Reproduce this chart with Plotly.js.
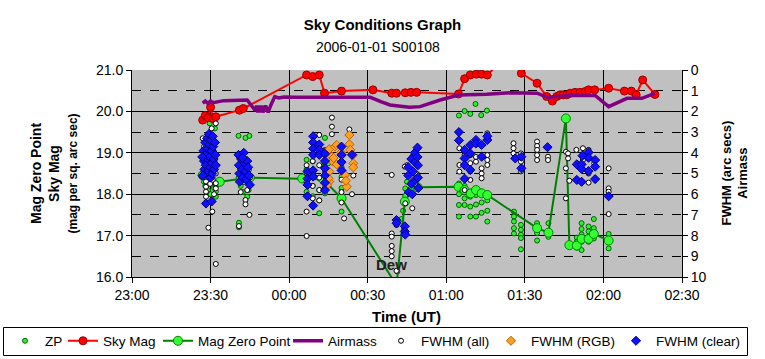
<!DOCTYPE html>
<html>
<head>
<meta charset="utf-8">
<script src="https://cdn.plot.ly/plotly-3.0.1.min.js"></script>
<style>html,body{margin:0;padding:0;background:#fff;}#chart{width:765px;height:359px;}</style>
</head>
<body>
<div id="chart"></div>
<script>
// ---------- DATA ----------
const tickTimes = ["23:00","23:30","00:00","00:30","01:00","01:30","02:00","02:30"];
const tickLabels = ["23:00","23:30","00:00","00:30","01:00","01:30","02:00","02:30"];

const skyMagTimes = ["23:27","23:28","23:29","23:30","23:31","23:32","23:41","23:42:30","00:06:40","00:09","00:11:30","00:13:30","00:20","00:32","00:39:10","00:41","00:44:20","00:46:30","00:48:40","01:04:40","01:07","01:09:10","01:11:30","01:13:30","01:15:40","01:20","01:26","01:28:40","01:34:40","01:38:20","01:40:30","01:42:10","01:43:30","01:44:40","01:46","01:47:20","01:49:10","01:51","01:53","01:54:20","01:56:40","02:02","02:08","02:10:40","02:12:30","02:15","02:19:40"];
const skyMagValues = [19.79,19.90,19.85,20.10,19.82,19.87,20.03,20.07,20.88,20.84,20.88,20.44,20.49,20.52,20.44,20.44,20.45,20.46,20.46,20.42,20.79,20.88,20.90,20.90,20.88,21.15,21.15,20.92,20.68,20.36,20.25,20.36,20.40,20.40,20.40,20.44,20.46,20.46,20.48,20.52,20.52,20.56,20.49,20.49,20.40,20.76,20.41];

const magZpTimes = ["23:27","23:33:30","23:45","00:05","00:13","00:20","00:41","00:44:10","00:47:20","00:49","01:04:40","01:07","01:09:20","01:11:20","01:13:30","01:15:40","01:34:40","01:39","01:45:40","01:47","01:49:50","01:51:40","01:54:20","01:56:20","02:02"];
const magZpValues = [18.46,18.30,18.40,18.38,18.36,17.90,15.80,17.82,18.14,18.17,18.18,18.10,18.02,18.10,18.02,17.98,17.18,17.07,19.83,16.77,16.76,16.92,16.92,17.04,16.88];

const airmassTimes = ["23:27","23:28","23:29","23:30","23:31","23:35","23:44","23:46","23:47","23:47:30","23:48","23:48:30","23:49","23:49:30","23:50","23:51","23:52","23:53","23:54:30","23:56","23:58","00:02","00:31","00:35","00:38:30","00:46","00:50","00:57:40","01:04:40","01:15:30","01:24:30","01:34:40","01:38:30","01:47:20","01:56:50","02:02","02:09","02:14:40","02:19:40"];
const airmassValues = [1.60,1.50,1.62,1.50,1.58,1.48,1.45,1.78,1.95,1.72,2.05,1.72,2.05,1.72,2.05,1.72,2.05,1.70,1.29,1.35,1.30,1.32,1.32,1.53,1.69,1.80,1.77,1.45,1.21,1.17,1.10,1.12,1.32,1.23,1.23,1.77,1.37,1.37,1.13];

const zpTimes = ["23:31:40","23:29:40","23:27:10","23:27:30","23:28:00","23:28:20","23:29:00","23:29:30","23:30:00","23:30:40","23:31:20","23:32:00","23:32:00","23:32:00","23:28:40",
"23:40:40","23:43:20","23:44:50","23:40:40","23:41:30","23:42:20","23:43:20","23:44:00","23:44:30","23:40:50","23:40:50",
"00:13:40","00:06:40","00:06:40","00:06:40","00:06:40","00:09:00","00:09:00","00:09:00","00:09:00","00:09:00","00:11:30","00:11:30","00:11:30","00:11:30","00:13:40","00:13:40","00:13:40","00:13:40","00:20:00","00:20:00","00:20:00","00:20:00","00:15:00",
"00:41:20","00:44:20","00:44:20","00:44:20","00:43:30","00:42:50","00:45:00",
"01:04:50","01:07:00","01:09:10","01:11:10","01:13:20","01:15:30","01:04:50","01:04:50","01:04:50","01:04:50","01:07:00","01:07:00","01:07:00","01:09:10","01:09:10","01:09:10","01:11:20","01:11:20","01:11:20","01:13:30","01:13:30","01:13:30","01:15:40","01:15:40","01:15:40",
"01:25:50","01:25:50","01:25:50","01:25:50","01:25:50","01:28:30","01:28:30","01:28:30","01:28:30","01:28:30",
"01:34:40","01:34:40","01:34:40","01:39:00","01:39:00",
"01:51:40","01:51:40","01:51:40","01:49:50","01:49:50","01:54:20","01:54:20","01:54:20","01:56:20","01:56:20","01:56:20","01:51:40","01:54:20","01:49:50","01:51:40",
"02:02:00","02:02:00","02:02:00"];
const zpValues = [19.59,19.71,18.47,18.30,18.20,18.26,18.10,18.40,18.00,18.30,18.15,18.06,17.94,18.20,18.50,
19.41,19.36,19.41,18.39,18.20,18.05,18.30,17.94,18.10,17.31,17.20,
19.36,18.83,18.60,18.35,18.06,18.79,18.50,18.20,17.95,17.74,18.38,18.10,17.85,17.54,19.07,18.70,18.30,18.02,18.42,18.15,17.85,17.58,18.75,
16.13,18.14,17.96,17.78,17.60,17.40,18.30,
19.90,20.01,19.94,20.18,19.91,20.02,18.26,18.00,17.74,17.46,18.20,17.90,17.74,17.94,17.70,17.46,17.98,17.75,17.46,18.06,17.80,17.55,17.85,17.60,17.34,
17.58,17.46,17.34,17.18,17.05,17.26,17.14,17.02,16.94,16.67,
17.30,17.06,16.88,17.30,16.97,
17.30,17.16,17.03,16.95,16.85,17.22,17.10,16.85,17.40,17.18,16.93,16.85,16.97,16.71,16.65,
17.04,16.69,16.85];

const fwhmAllTimes = ["23:30:25","23:32:00","23:29:40","23:27:00","23:27:30","23:28:00","23:28:30","23:29:00","23:29:30","23:30:00","23:30:30","23:31:00","23:31:30","23:32:00","23:26:40","23:28:15","23:28:15","23:28:15","23:28:15","23:30:50","23:32:00","23:32:00","23:30:40","23:29:10","23:32:00","23:27:20","23:29:50","23:31:20",
"23:40:40","23:41:20","23:42:00","23:42:40","23:43:20","23:44:00","23:44:40","23:45:00","23:43:20","23:43:20","23:44:50","23:40:50","23:41:30",
"00:16:20","00:16:20","00:16:20","00:23:00","00:11:30","00:06:40","00:06:40","00:06:40","00:06:40","00:06:40","00:09:00","00:09:00","00:09:00","00:09:00","00:11:30","00:11:30","00:11:30","00:11:30","00:13:40","00:13:40","00:13:40","00:20:00","00:20:00","00:20:00","00:20:00","00:21:00","00:24:30","00:24:00",
"00:39:10","00:39:10","00:39:10","00:39:10","00:39:10","00:39:10","00:41:00","00:41:00","00:44:20","00:47:00","00:45:00","00:47:00","00:49:10","00:44:10","00:48:00","00:49:00",
"01:05:00","01:05:00","01:05:00","01:07:00","01:07:00","01:09:10","01:09:10","01:09:10","01:09:10","01:11:20","01:11:20","01:13:30","01:13:30","01:13:30","01:15:40","01:15:40","01:15:40","01:15:40",
"01:25:40","01:25:40","01:25:40","01:28:30","01:28:30","01:28:30","01:34:40","01:34:40","01:34:40","01:34:40","01:34:40","01:38:50","01:38:50",
"01:45:40","01:45:40","01:45:40","01:46:30","01:46:30","01:47:00","01:49:40","01:52:10","01:54:20","01:52:10","01:52:10","01:50:00","01:54:20","01:56:30","01:54:20","01:54:20",
"02:02:00","02:02:00","02:02:00","02:02:00"];
const fwhmAllValues = [2.82,2.58,3.06,3.30,3.70,4.00,4.50,4.80,3.50,4.10,4.60,3.90,4.40,5.00,5.15,5.39,5.64,5.88,6.12,5.31,5.47,5.72,6.84,7.62,9.37,4.90,5.50,6.00,
4.15,4.60,5.00,5.40,4.30,5.80,4.80,5.20,6.28,6.49,7.00,7.54,5.90,
2.30,2.74,3.10,2.87,3.14,4.60,5.00,5.40,6.84,8.02,4.40,5.00,5.60,6.20,4.60,5.20,5.80,6.30,3.90,4.90,5.70,4.70,5.30,5.90,6.40,7.17,5.10,6.00,
5.07,7.90,8.05,8.50,8.75,9.00,9.70,7.49,6.44,6.68,4.60,4.19,3.78,4.67,5.50,5.05,
3.78,4.59,4.91,5.80,4.10,4.11,4.50,4.90,5.31,4.20,4.43,4.75,5.00,5.23,3.06,4.11,4.35,4.59,
3.54,3.78,4.03,4.03,4.43,4.90,3.46,3.67,3.86,4.11,4.35,4.19,4.35,
3.95,4.75,6.20,4.03,4.27,5.35,3.86,3.78,3.86,4.07,4.35,4.51,4.27,4.51,5.00,5.44,
4.75,5.72,5.88,6.96];

const fwhmRgbTimes = ["00:15:20","00:16:20","00:17:30","00:15:20","00:15:20","00:16:40","00:18:10","00:19:50","00:21:20","00:22:00","00:23:00","00:23:00","00:23:20","00:24:20","00:24:30","00:24:30","00:15:00","00:18:10","00:20:10","00:14:30","00:21:40","00:17:00"];
const fwhmRgbValues = [3.82,4.19,3.70,4.91,5.39,4.43,4.56,3.98,5.07,5.64,3.14,3.59,3.86,4.11,4.51,4.70,5.23,3.62,4.11,5.56,5.35,4.25];

const fwhmClearTimes = ["23:27:20","23:27:30","23:27:40","23:28:15","23:30:25","23:28:00","23:28:00","23:28:10","23:28:20","23:28:40","23:28:50","23:29:00","23:29:10","23:29:20","23:29:30","23:29:40","23:29:50","23:30:00","23:30:10","23:30:20","23:30:30","23:30:40","23:30:50","23:31:00","23:31:10","23:31:20","23:31:40","23:31:50","23:32:00","23:26:50","23:27:00",
"23:40:40","23:40:50","23:41:00","23:41:10","23:41:40","23:42:00","23:42:20","23:42:40","23:43:00","23:43:20","23:43:40","23:44:00","23:44:20","23:44:40","23:45:00","23:42:10",
"00:07:00","00:07:00","00:07:00","00:07:00","00:09:10","00:09:10","00:09:10","00:09:10","00:09:10","00:09:10","00:09:10","00:11:30","00:11:30","00:11:30","00:13:40","00:13:40","00:13:40","00:13:40","00:13:40","00:13:40","00:20:00","00:20:00","00:20:00","00:20:00","00:24:00",
"00:41:00","00:41:00","00:44:10","00:44:10","00:44:20","00:45:30","00:45:30","00:45:40","00:46:40","00:46:40","00:47:20","00:48:00","00:48:00","00:48:10","00:49:00","00:49:00","00:49:10","00:49:10","00:49:20","00:47:00",
"01:04:50","01:04:50","01:07:00","01:07:00","01:07:00","01:07:00","01:09:10","01:09:10","01:09:10","01:11:20","01:11:20","01:13:30","01:13:30","01:15:40","01:15:40",
"01:26:20","01:28:40","01:28:40","01:38:40",
"01:49:50","01:51:40","01:52:00","01:54:20","01:54:20","01:56:50","01:56:50","01:51:40","01:54:20","01:49:50","01:51:40","01:56:50",
"02:02:00"];
const fwhmClearValues = [3.9,4.4,4.8,6.45,6.35,3.5,4.1,4.6,5.0,3.3,3.8,4.3,4.9,3.1,3.6,4.2,4.7,5.2,3.4,3.9,4.5,5.0,3.2,3.7,4.3,4.8,3.5,4.1,4.6,4.2,5.1,
4.1,4.6,5.0,5.4,4.3,4.8,5.2,4.0,4.5,4.9,5.3,4.4,4.7,5.1,5.55,4.25,
4.9,5.25,5.55,6.1,3.2,3.5,3.8,4.1,4.85,5.15,6.55,3.6,3.85,4.1,4.05,4.4,4.75,5.1,5.45,5.8,3.7,4.1,4.45,4.85,4.1,
7.25,7.4,7.55,7.8,7.95,4.7,5.1,5.9,4.3,5.5,4.9,4.0,4.45,5.3,3.75,4.2,4.6,5.2,5.7,6.0,
3.0,3.4,3.86,4.27,4.6,5.25,3.62,4.03,4.83,3.38,3.55,3.62,4.19,3.38,3.2,
4.27,4.19,4.75,3.73,
4.56,4.56,4.14,3.98,4.24,4.35,4.67,4.78,4.88,5.31,5.40,5.27,
6.1];

// ---------- HELPERS ----------
function T(s) {
  const h = parseInt(s.split(':')[0], 10);
  return (h >= 12 ? '2005-12-31 ' : '2006-01-01 ') + s;
}
const X = arr => arr.map(T);
const FONT = 'Liberation Sans, Arial, sans-serif';

// ---------- TRACES ----------
const traces = [
  { name: 'ZP', legend: 'legend', type: 'scatter', mode: 'markers', x: X(zpTimes), y: zpValues, yaxis: 'y',
    marker: { symbol: 'circle', size: 5, color: '#33ee33', line: { color: '#006400', width: 1 } } },
  { name: 'Sky Mag', legend: 'legend2', type: 'scatter', mode: 'lines+markers', x: X(skyMagTimes), y: skyMagValues, yaxis: 'y',
    line: { color: '#ff0000', width: 2 },
    marker: { symbol: 'circle', size: 8, color: '#ff0000', line: { color: '#990000', width: 1 } } },
  { name: 'Mag Zero Point', legend: 'legend3', type: 'scatter', mode: 'lines+markers', x: X(magZpTimes), y: magZpValues, yaxis: 'y',
    line: { color: '#008000', width: 2 },
    marker: { symbol: 'circle', size: 9, color: '#33ff33', line: { color: '#008000', width: 1 } } },
  { name: 'Airmass', legend: 'legend4', type: 'scatter', mode: 'lines', x: X(airmassTimes), y: airmassValues, yaxis: 'y2',
    line: { color: '#800080', width: 3.5 } },
  { name: 'FWHM (all)', legend: 'legend5', type: 'scatter', mode: 'markers', x: X(fwhmAllTimes), y: fwhmAllValues, yaxis: 'y2',
    marker: { symbol: 'circle', size: 5, color: '#ffffff', line: { color: '#000000', width: 1 } } },
  { name: 'FWHM (RGB)', legend: 'legend6', type: 'scatter', mode: 'markers', x: X(fwhmRgbTimes), y: fwhmRgbValues, yaxis: 'y2',
    marker: { symbol: 'diamond', size: 7, color: '#ffa020', line: { color: '#b86000', width: 1 } } },
  { name: 'FWHM (clear)', legend: 'legend7', type: 'scatter', mode: 'markers', x: X(fwhmClearTimes), y: fwhmClearValues, yaxis: 'y2',
    marker: { symbol: 'diamond', size: 7, color: '#1010ff', line: { color: '#000080', width: 1 } } }
];

const L = 132, R = 682, TOP = 70, BOT = 277;
const px2paperX = px => (px - L) / (R - L);
const px2paperY = py => (BOT - py) / (BOT - TOP);

function legendAt(leftPx) {
  return {
    orientation: 'h', xref: 'container', yref: 'container',
    x: leftPx / 765, xanchor: 'left', y: 1 - 341 / 359, yanchor: 'middle',
    borderwidth: 0, bgcolor: 'rgba(0,0,0,0)',
    font: { family: FONT, size: 13.5, color: '#000' }, itemwidth: 30
  };
}

const layout = {
  width: 765, height: 359,
  margin: { l: L, r: 765 - R, t: TOP, b: 359 - BOT, pad: 0, autoexpand: false },
  paper_bgcolor: '#ffffff',
  plot_bgcolor: '#c0c0c0',
  font: { family: FONT, size: 14, color: '#000000' },
  showlegend: true,
  title: { text: '<b>Sky Conditions Graph</b>', font: { family: FONT, size: 15, color: '#000' },
           x: 0.5, xref: 'container', xanchor: 'center', y: 1 - 25 / 359, yref: 'container', yanchor: 'middle' },
  xaxis: {
    type: 'date',
    range: [T('23:00'), T('02:30')],
    tickvals: X(tickTimes), ticktext: tickLabels,
    showgrid: true, gridcolor: '#000000', gridwidth: 1,
    showline: true, linecolor: '#000000', linewidth: 1,
    ticks: 'outside', ticklen: 5, tickcolor: '#000000',
    tickfont: { family: FONT, size: 14, color: '#000' },
    zeroline: false, fixedrange: true, automargin: false
  },
  yaxis: {
    range: [16, 21], dtick: 1, tickformat: '.1f',
    showgrid: true, gridcolor: '#000000', gridwidth: 1,
    minor: { dtick: 0.5, showgrid: true, gridcolor: '#000000', griddash: 'dash', gridwidth: 1, ticks: '' },
    showline: true, linecolor: '#000000', linewidth: 1,
    ticks: 'outside', ticklen: 5, tickcolor: '#000000',
    tickfont: { family: FONT, size: 14, color: '#000' },
    zeroline: false, fixedrange: true, automargin: false
  },
  yaxis2: {
    overlaying: 'y', side: 'right',
    range: [10, 0], dtick: 1,
    showgrid: false, zeroline: false,
    showline: true, linecolor: '#000000', linewidth: 1,
    ticks: 'outside', ticklen: 5, tickcolor: '#000000',
    tickfont: { family: FONT, size: 14, color: '#000' },
    fixedrange: true, automargin: false
  },
  legend: legendAt(5),
  legend2: legendAt(63),
  legend3: legendAt(158),
  legend4: legendAt(288),
  legend5: legendAt(381),
  legend6: legendAt(491),
  legend7: legendAt(616),
  shapes: [
    { type: 'rect', xref: 'paper', yref: 'paper',
      x0: px2paperX(3.5), x1: px2paperX(747.5), y0: px2paperY(327.5), y1: px2paperY(355.5),
      line: { color: '#000000', width: 1 }, fillcolor: 'rgba(0,0,0,0)', layer: 'above' }
  ],
  annotations: [
    { text: '2006-01-01 S00108', xref: 'paper', yref: 'paper', x: px2paperX(378), y: px2paperY(47),
      xanchor: 'center', yanchor: 'middle', showarrow: false, font: { family: FONT, size: 14, color: '#000' } },
    { text: '<b>Mag Zero Point</b><br><b>Sky Mag</b><br><b><span style="font-size:12px">(mag per sq. arc sec)</span></b>',
      xref: 'paper', yref: 'paper', x: px2paperX(53), y: 0.5, xanchor: 'center', yanchor: 'middle',
      textangle: -90, showarrow: false, font: { family: FONT, size: 14, color: '#000' } },
    { text: '<b>FWHM (arc secs)</b><br><b>Airmass</b>',
      xref: 'paper', yref: 'paper', x: px2paperX(734), y: 0.5, xanchor: 'center', yanchor: 'middle',
      textangle: -90, showarrow: false, font: { family: FONT, size: 13, color: '#000' } },
    { text: '<b>Time (UT)</b>', xref: 'paper', yref: 'paper', x: px2paperX(406), y: px2paperY(316),
      xanchor: 'center', yanchor: 'middle', showarrow: false, font: { family: FONT, size: 15, color: '#000' } },
    { text: '<b>Dew</b>', xref: 'x', yref: 'y', x: T('00:38:54'), y: 16.31,
      xanchor: 'center', yanchor: 'middle', showarrow: false, font: { family: FONT, size: 15, color: '#222' } }
  ]
};

Plotly.newPlot('chart', traces, layout, { displayModeBar: false, staticPlot: true });
</script>
</body>
</html>
